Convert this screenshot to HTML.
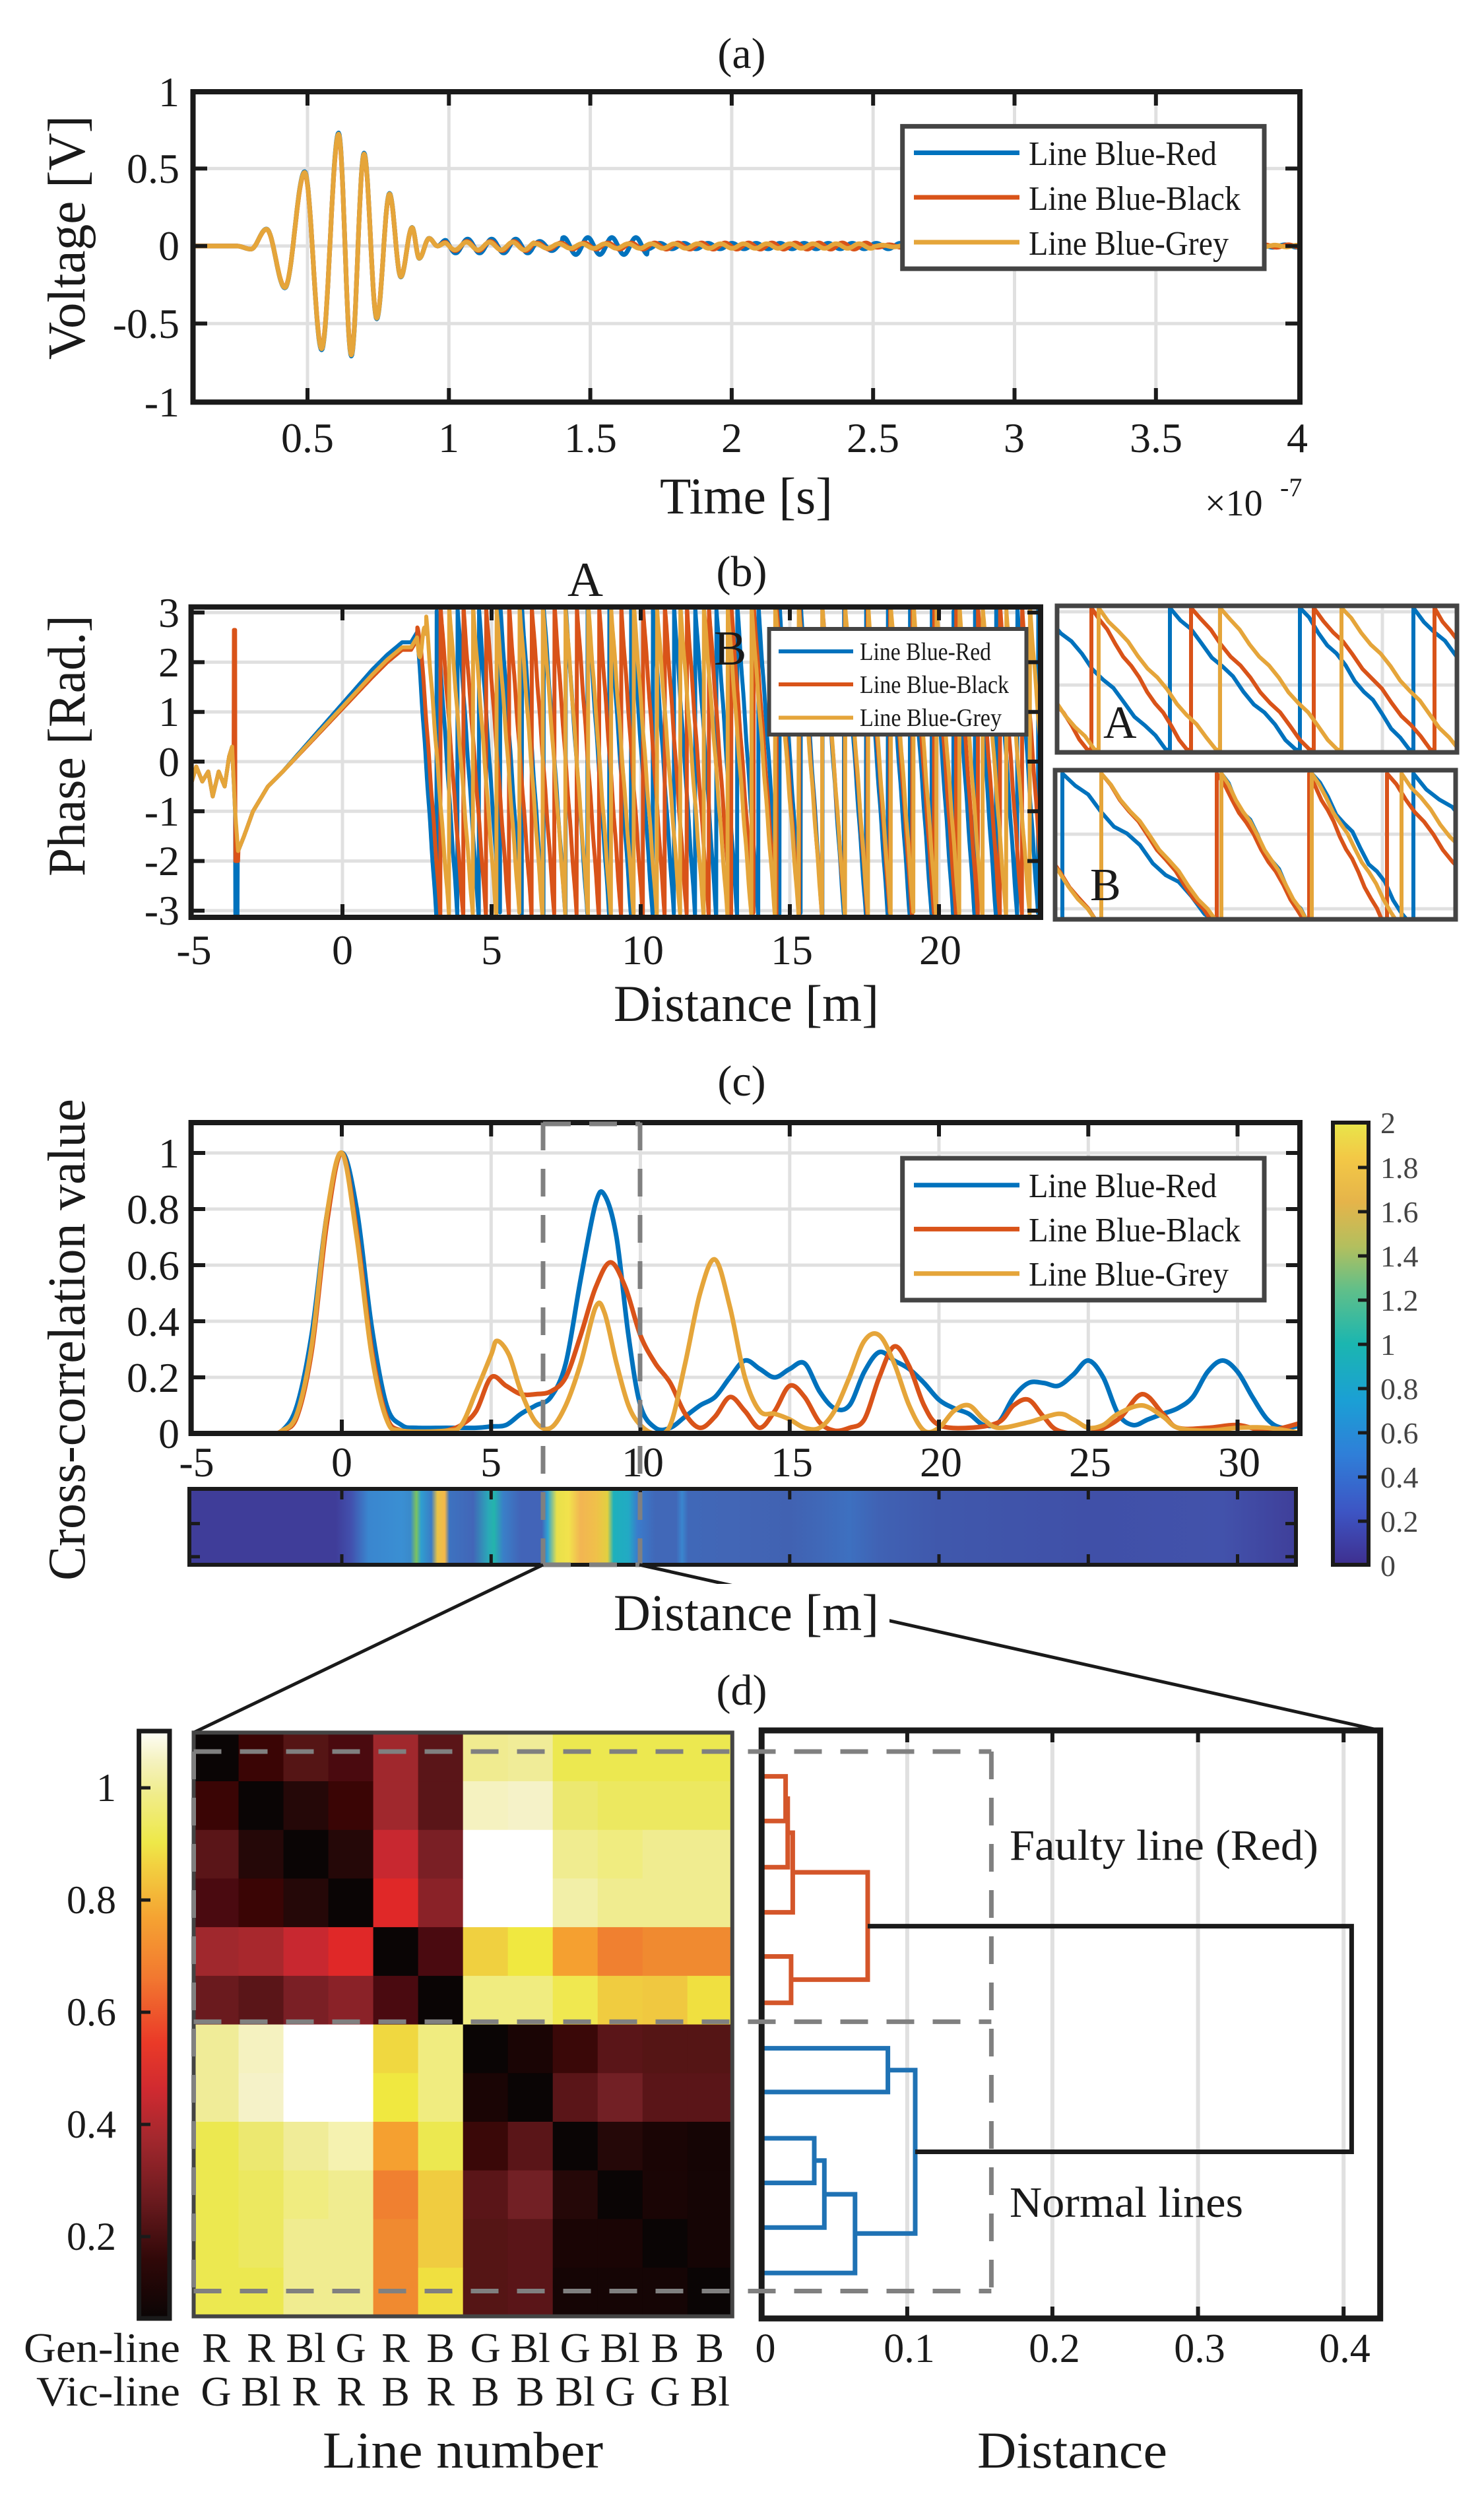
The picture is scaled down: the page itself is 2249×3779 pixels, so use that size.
<!DOCTYPE html>
<html><head><meta charset="utf-8">
<style>
html,body{margin:0;padding:0;background:#fff;}
svg{display:block;}
text{font-family:"Liberation Serif",serif;fill:#1a1a1a;}
</style></head>
<body>
<svg id="s" xmlns="http://www.w3.org/2000/svg" width="2249" height="3779" viewBox="0 0 2249 3779">
<defs>
<clipPath id="ca"><rect x="292.5" y="139" width="1677.5" height="470.3"/></clipPath>
<clipPath id="cb"><rect x="289.6" y="919.7" width="1287.4" height="470.3"/></clipPath>
<clipPath id="cc"><rect x="289.6" y="1701" width="1680.4" height="471"/></clipPath>
<clipPath id="cia"><rect x="1602" y="918" width="606" height="222"/></clipPath>
<clipPath id="cib"><rect x="1599" y="1167" width="607" height="226"/></clipPath>
<linearGradient id="strip" gradientUnits="userSpaceOnUse" x1="287" y1="0" x2="1964" y2="0"></linearGradient>
<linearGradient id="parula" x1="0" y1="1" x2="0" y2="0">
<stop offset="0" stop-color="#3e2f8f"/><stop offset="0.12" stop-color="#3d55c4"/><stop offset="0.25" stop-color="#2f7fd8"/><stop offset="0.37" stop-color="#1b9fd5"/><stop offset="0.5" stop-color="#1bb6b0"/><stop offset="0.62" stop-color="#5fbf8a"/><stop offset="0.72" stop-color="#b3bf5e"/><stop offset="0.82" stop-color="#e5b44a"/><stop offset="0.92" stop-color="#f3c846"/><stop offset="1" stop-color="#e8e64a"/>
</linearGradient>
<linearGradient id="hot" gradientUnits="userSpaceOnUse" x1="0" y1="3513" x2="0" y2="2623">
<stop offset="0" stop-color="#0a0505"/><stop offset="0.1" stop-color="#300808"/><stop offset="0.2" stop-color="#6a1a1e"/><stop offset="0.31" stop-color="#a5282e"/><stop offset="0.39" stop-color="#d02a30"/><stop offset="0.47" stop-color="#ea3a28"/><stop offset="0.58" stop-color="#f27830"/><stop offset="0.68" stop-color="#f5a232"/><stop offset="0.77" stop-color="#f2d040"/><stop offset="0.81" stop-color="#eee848"/><stop offset="0.89" stop-color="#f0ec88"/><stop offset="0.95" stop-color="#f5f2c0"/><stop offset="1" stop-color="#fefef8"/>
</linearGradient>
</defs>

<!-- ================= PANEL A ================= -->
<text x="1124" y="103" font-size="66" text-anchor="middle">(a)</text>
<g stroke="#e0e0e0" stroke-width="5">
<line x1="466" y1="139" x2="466" y2="609"/><line x1="680.3" y1="139" x2="680.3" y2="609"/><line x1="894.6" y1="139" x2="894.6" y2="609"/><line x1="1108.9" y1="139" x2="1108.9" y2="609"/><line x1="1323.2" y1="139" x2="1323.2" y2="609"/><line x1="1537.5" y1="139" x2="1537.5" y2="609"/><line x1="1751.8" y1="139" x2="1751.8" y2="609"/>
<line x1="292" y1="255.4" x2="1970" y2="255.4"/><line x1="292" y1="372.8" x2="1970" y2="372.8"/><line x1="292" y1="490.2" x2="1970" y2="490.2"/>
</g>
<g clip-path="url(#ca)" fill="none" stroke-width="7" stroke-linejoin="round">
<path id="a1" stroke="#0072BD"/><path id="a2" stroke="#D95319"/><path id="a3" stroke="#E5A53A"/>
</g>
<g stroke="#1a1a1a" stroke-width="6" id="ta"></g>
<rect x="292.5" y="139" width="1677.5" height="470.3" fill="none" stroke="#1a1a1a" stroke-width="8"/>
<g font-size="64" text-anchor="end">
<text x="272" y="161">1</text><text x="272" y="277">0.5</text><text x="272" y="394">0</text><text x="272" y="512">-0.5</text><text x="272" y="631">-1</text>
</g>
<g font-size="64" text-anchor="middle">
<text x="466" y="685">0.5</text><text x="680" y="685">1</text><text x="895" y="685">1.5</text><text x="1109" y="685">2</text><text x="1323" y="685">2.5</text><text x="1537" y="685">3</text><text x="1752" y="685">3.5</text><text x="1966" y="685">4</text>
</g>
<text x="1000" y="778" font-size="78" textLength="262" lengthAdjust="spacingAndGlyphs">Time [s]</text>
<text x="1826" y="781" font-size="56">×10</text><text x="1940" y="752" font-size="40">-7</text>
<text transform="translate(128,360) rotate(-90)" font-size="80" text-anchor="middle" textLength="370" lengthAdjust="spacingAndGlyphs">Voltage [V]</text>
<rect x="1367.7" y="191.4" width="548.3" height="215.8" fill="#fff" stroke="#444" stroke-width="7"/>
<g stroke-width="7"><line x1="1385" y1="231.5" x2="1545" y2="231.5" stroke="#0072BD"/><line x1="1385" y1="299" x2="1545" y2="299" stroke="#D95319"/><line x1="1385" y1="367" x2="1545" y2="367" stroke="#E5A53A"/></g>
<g font-size="52"><text x="1559" y="250" textLength="285" lengthAdjust="spacingAndGlyphs">Line Blue-Red</text><text x="1559" y="318" textLength="321" lengthAdjust="spacingAndGlyphs">Line Blue-Black</text><text x="1559" y="386" textLength="303" lengthAdjust="spacingAndGlyphs">Line Blue-Grey</text></g>

<!-- ================= PANEL B ================= -->
<text x="1124" y="888" font-size="66" text-anchor="middle">(b)</text>
<g stroke="#e0e0e0" stroke-width="5">
<line x1="519" y1="920" x2="519" y2="1390"/><line x1="745" y1="920" x2="745" y2="1390"/><line x1="971" y1="920" x2="971" y2="1390"/><line x1="1197" y1="920" x2="1197" y2="1390"/><line x1="1423" y1="920" x2="1423" y2="1390"/>
<line x1="290" y1="928.1" x2="1577" y2="928.1"/><line x1="290" y1="1003.4" x2="1577" y2="1003.4"/><line x1="290" y1="1078.7" x2="1577" y2="1078.7"/><line x1="290" y1="1154" x2="1577" y2="1154"/><line x1="290" y1="1229.3" x2="1577" y2="1229.3"/><line x1="290" y1="1304.6" x2="1577" y2="1304.6"/><line x1="290" y1="1379.9" x2="1577" y2="1379.9"/>
</g>
<g clip-path="url(#cb)" fill="none" stroke-width="6" stroke-linejoin="round">
<path id="b1" stroke="#0072BD"/><path id="b2" stroke="#D95319"/><path id="b3" stroke="#E5A53A"/>
</g>
<g stroke="#1a1a1a" stroke-width="6" id="tb"></g>
<rect x="289.6" y="919.7" width="1287.4" height="470.3" fill="none" stroke="#1a1a1a" stroke-width="8"/>
<g font-size="64" text-anchor="end">
<text x="272" y="950">3</text><text x="272" y="1025">2</text><text x="272" y="1100">1</text><text x="272" y="1176">0</text><text x="272" y="1251">-1</text><text x="272" y="1326">-2</text><text x="272" y="1401">-3</text>
</g>
<g font-size="64" text-anchor="middle">
<text x="294" y="1461">-5</text><text x="519" y="1461">0</text><text x="745" y="1461">5</text><text x="974" y="1461">10</text><text x="1200" y="1461">15</text><text x="1425" y="1461">20</text>
</g>
<text x="930" y="1547" font-size="78" textLength="402" lengthAdjust="spacingAndGlyphs">Distance [m]</text>
<text transform="translate(128,1130) rotate(-90)" font-size="80" text-anchor="middle" textLength="396" lengthAdjust="spacingAndGlyphs">Phase [Rad.]</text>
<text x="860" y="903" font-size="74" textLength="54" lengthAdjust="spacingAndGlyphs">A</text>
<text x="1082" y="1007" font-size="74">B</text>
<rect x="1165.6" y="953" width="389.9" height="160" fill="#fff" stroke="#444" stroke-width="6"/>
<g stroke-width="6"><line x1="1180" y1="987" x2="1293" y2="987" stroke="#0072BD"/><line x1="1180" y1="1037" x2="1293" y2="1037" stroke="#D95319"/><line x1="1180" y1="1087.5" x2="1293" y2="1087.5" stroke="#E5A53A"/></g>
<g font-size="38"><text x="1303" y="1000" textLength="199" lengthAdjust="spacingAndGlyphs">Line Blue-Red</text><text x="1303" y="1050" textLength="226" lengthAdjust="spacingAndGlyphs">Line Blue-Black</text><text x="1303" y="1100" textLength="215" lengthAdjust="spacingAndGlyphs">Line Blue-Grey</text></g>
<!-- insets -->
<g stroke="#e0e0e0" stroke-width="5">
<line x1="1848" y1="918" x2="1848" y2="1140"/><line x1="2095" y1="918" x2="2095" y2="1140"/><line x1="1602" y1="927" x2="2208" y2="927"/><line x1="1602" y1="1038" x2="2208" y2="1038"/>
<line x1="1848" y1="1167" x2="1848" y2="1393"/><line x1="2095" y1="1167" x2="2095" y2="1393"/><line x1="1599" y1="1264" x2="2206" y2="1264"/><line x1="1599" y1="1377" x2="2206" y2="1377"/>
</g>
<g clip-path="url(#cia)" fill="none" stroke-width="6" stroke-linejoin="round"><path id="ia1" stroke="#0072BD"/><path id="ia2" stroke="#D95319"/><path id="ia3" stroke="#E5A53A"/></g>
<g clip-path="url(#cib)" fill="none" stroke-width="6" stroke-linejoin="round"><path id="ib1" stroke="#0072BD"/><path id="ib2" stroke="#D95319"/><path id="ib3" stroke="#E5A53A"/></g>
<rect x="1602" y="918" width="606" height="222" fill="none" stroke="#444" stroke-width="7"/>
<rect x="1599" y="1167" width="607" height="226" fill="none" stroke="#444" stroke-width="7"/>
<text x="1672" y="1118" font-size="70">A</text>
<text x="1652" y="1364" font-size="70">B</text>

<!-- ================= PANEL C ================= -->
<text x="1124" y="1660" font-size="66" text-anchor="middle">(c)</text>
<g stroke="#e0e0e0" stroke-width="5">
<line x1="518" y1="1701" x2="518" y2="2172"/><line x1="744.3" y1="1701" x2="744.3" y2="2172"/><line x1="970.5" y1="1701" x2="970.5" y2="2172"/><line x1="1196.8" y1="1701" x2="1196.8" y2="2172"/><line x1="1423" y1="1701" x2="1423" y2="2172"/><line x1="1649.3" y1="1701" x2="1649.3" y2="2172"/><line x1="1875.5" y1="1701" x2="1875.5" y2="2172"/>
<line x1="290" y1="1747" x2="1970" y2="1747"/><line x1="290" y1="1832" x2="1970" y2="1832"/><line x1="290" y1="1917" x2="1970" y2="1917"/><line x1="290" y1="2002" x2="1970" y2="2002"/><line x1="290" y1="2087" x2="1970" y2="2087"/>
</g>
<g clip-path="url(#cc)" fill="none" stroke-width="7" stroke-linejoin="round">
<path id="c1" stroke="#0072BD"/><path id="c2" stroke="#D95319"/><path id="c3" stroke="#E5A53A"/>
</g>
<g stroke="#1a1a1a" stroke-width="6" id="tc"></g>
<rect x="289.6" y="1701" width="1680.4" height="471" fill="none" stroke="#1a1a1a" stroke-width="8"/>
<g font-size="64" text-anchor="end">
<text x="272" y="1769">1</text><text x="272" y="1854">0.8</text><text x="272" y="1939">0.6</text><text x="272" y="2024">0.4</text><text x="272" y="2109">0.2</text><text x="272" y="2194">0</text>
</g>
<g font-size="64" text-anchor="middle">
<text x="298" y="2237">-5</text><text x="518" y="2237">0</text><text x="744" y="2237">5</text><text x="974" y="2237">10</text><text x="1200" y="2237">15</text><text x="1426" y="2237">20</text><text x="1652" y="2237">25</text><text x="1878" y="2237">30</text>
</g>
<rect x="1367.7" y="1755" width="548.3" height="215" fill="#fff" stroke="#444" stroke-width="7"/>
<g stroke-width="7"><line x1="1385" y1="1795.7" x2="1545" y2="1795.7" stroke="#0072BD"/><line x1="1385" y1="1862.4" x2="1545" y2="1862.4" stroke="#D95319"/><line x1="1385" y1="1929.7" x2="1545" y2="1929.7" stroke="#E5A53A"/></g>
<g font-size="52"><text x="1559" y="1814" textLength="285" lengthAdjust="spacingAndGlyphs">Line Blue-Red</text><text x="1559" y="1881" textLength="321" lengthAdjust="spacingAndGlyphs">Line Blue-Black</text><text x="1559" y="1948" textLength="303" lengthAdjust="spacingAndGlyphs">Line Blue-Grey</text></g>
<!-- strip -->
<rect x="287" y="2256" width="1677" height="115" fill="url(#strip)" stroke="#1a1a1a" stroke-width="6"/>
<g stroke="#1a1a1a" stroke-width="5" id="ts"></g>
<!-- colorbar c -->
<rect x="2020" y="1701" width="54" height="670" fill="url(#parula)" stroke="#1a1a1a" stroke-width="6"/>
<g stroke="#1a1a1a" stroke-width="5">
<line x1="2058" y1="1769" x2="2073" y2="1769"/><line x1="2058" y1="1836" x2="2073" y2="1836"/><line x1="2058" y1="1903" x2="2073" y2="1903"/><line x1="2058" y1="1970" x2="2073" y2="1970"/><line x1="2058" y1="2037" x2="2073" y2="2037"/><line x1="2058" y1="2104" x2="2073" y2="2104"/><line x1="2058" y1="2171" x2="2073" y2="2171"/><line x1="2058" y1="2238" x2="2073" y2="2238"/><line x1="2058" y1="2305" x2="2073" y2="2305"/>
</g>
<g font-size="46" fill="#444" style="fill:#444">
<text x="2092" y="1717" style="fill:#444">2</text><text x="2092" y="1785" style="fill:#444">1.8</text><text x="2092" y="1852" style="fill:#444">1.6</text><text x="2092" y="1919" style="fill:#444">1.4</text><text x="2092" y="1986" style="fill:#444">1.2</text><text x="2092" y="2053" style="fill:#444">1</text><text x="2092" y="2120" style="fill:#444">0.8</text><text x="2092" y="2187" style="fill:#444">0.6</text><text x="2092" y="2254" style="fill:#444">0.4</text><text x="2092" y="2321" style="fill:#444">0.2</text><text x="2092" y="2388" style="fill:#444">0</text>
</g>
<text transform="translate(128,2030) rotate(-90)" font-size="80" text-anchor="middle" textLength="730" lengthAdjust="spacingAndGlyphs">Cross-correlation value</text>
<!-- dashed box c -->
<g stroke="#808080" stroke-width="7" stroke-dasharray="42,28" fill="none">
<line x1="823" y1="1701" x2="823" y2="2371"/><line x1="970" y1="1701" x2="970" y2="2371"/><line x1="823" y1="1703" x2="970" y2="1703"/><line x1="823" y1="2371" x2="970" y2="2371"/>
</g>
<!-- connector lines -->
<g stroke="#1a1a1a" stroke-width="5"><line x1="823" y1="2371" x2="294" y2="2625"/><line x1="969" y1="2371" x2="2091" y2="2622"/></g>
<rect x="918" y="2400" width="430" height="95" fill="#fff"/>
<text x="930" y="2470" font-size="78" textLength="402" lengthAdjust="spacingAndGlyphs">Distance [m]</text>

<!-- ================= PANEL D ================= -->
<text x="1124" y="2583" font-size="66" text-anchor="middle">(d)</text>
<g id="heat"></g>
<rect x="293.5" y="2625.3" width="816.3" height="884.5" fill="none" stroke="#444" stroke-width="6"/>
<rect x="210.6" y="2623" width="46.4" height="890" fill="url(#hot)" stroke="#1a1a1a" stroke-width="7"/>
<g stroke="#1a1a1a" stroke-width="5">
<line x1="213" y1="2709" x2="228" y2="2709"/><line x1="213" y1="2879" x2="228" y2="2879"/><line x1="213" y1="3049" x2="228" y2="3049"/><line x1="213" y1="3219" x2="228" y2="3219"/><line x1="213" y1="3389" x2="228" y2="3389"/>
</g>
<g font-size="60" text-anchor="end">
<text x="176" y="2729">1</text><text x="176" y="2899">0.8</text><text x="176" y="3069">0.6</text><text x="176" y="3239">0.4</text><text x="176" y="3409">0.2</text>
</g>
<!-- dendrogram -->
<g stroke="#e0e0e0" stroke-width="6">
<line x1="1374.9" y1="2622" x2="1374.9" y2="3513"/><line x1="1594.9" y1="2622" x2="1594.9" y2="3513"/><line x1="1815.6" y1="2622" x2="1815.6" y2="3513"/><line x1="2036.2" y1="2622" x2="2036.2" y2="3513"/>
</g>
<g fill="none" stroke-width="7" stroke-linejoin="miter">
<path stroke="#D4562A" d="M1154 2691.6H1190.6V2759.2H1154 M1190.6 2725.4H1193.8V2829.3H1154 M1193.8 2777H1201.4V2897.6H1154 M1154 2964.5H1198.9V3034.7H1154 M1201.4 2837H1315V2999.6H1198.9"/>
<path stroke="#1f72b4" d="M1154 3103.6H1345.6V3169.9H1154 M1154 3240H1234V3307.6H1154 M1234 3273.8H1249.3V3375.2H1154 M1249.3 3324.9H1295.8V3444.1H1154 M1345.6 3136.7H1387V3384.2H1295.8"/>
<path stroke="#1a1a1a" d="M1315 2918.6H2048.4V3260.5H1387"/>
</g>
<rect x="1154.2" y="2622" width="937.5" height="891" fill="none" stroke="#1a1a1a" stroke-width="9"/>
<g stroke="#1a1a1a" stroke-width="6">
<line x1="1374.9" y1="2622" x2="1374.9" y2="2640"/><line x1="1594.9" y1="2622" x2="1594.9" y2="2640"/><line x1="1815.6" y1="2622" x2="1815.6" y2="2640"/><line x1="2036.2" y1="2622" x2="2036.2" y2="2640"/>
<line x1="1374.9" y1="3495" x2="1374.9" y2="3513"/><line x1="1594.9" y1="3495" x2="1594.9" y2="3513"/><line x1="1815.6" y1="3495" x2="1815.6" y2="3513"/><line x1="2036.2" y1="3495" x2="2036.2" y2="3513"/>
</g>
<!-- dashed lines d -->
<g stroke="#808080" stroke-width="7" stroke-dasharray="42,28" fill="none">
<line x1="293.5" y1="2654" x2="1502.4" y2="2654"/><line x1="293.5" y1="3063.4" x2="1502.4" y2="3063.4"/><line x1="293.5" y1="3471.5" x2="1502.4" y2="3471.5"/>
<line x1="293.5" y1="2654" x2="293.5" y2="3471.5"/><line x1="1502.4" y1="2654" x2="1502.4" y2="3471.5"/>
</g>
<text x="1530" y="2818" font-size="66" textLength="468" lengthAdjust="spacingAndGlyphs">Faulty line (Red)</text>
<text x="1530" y="3359" font-size="66" textLength="354" lengthAdjust="spacingAndGlyphs">Normal lines</text>
<g font-size="62" text-anchor="middle">
<text x="1160" y="3579">0</text><text x="1378" y="3579">0.1</text><text x="1598" y="3579">0.2</text><text x="1818" y="3579">0.3</text><text x="2038" y="3579">0.4</text>
</g>
<g font-size="64">
<text x="36" y="3579" textLength="237" lengthAdjust="spacingAndGlyphs">Gen-line</text>
<text x="55" y="3645" textLength="218" lengthAdjust="spacingAndGlyphs">Vic-line</text>
</g>
<g font-size="64" text-anchor="middle" id="lbl"></g>
<text x="489" y="3739" font-size="78" textLength="425" lengthAdjust="spacingAndGlyphs">Line number</text>
<text x="1481" y="3739" font-size="78" textLength="288" lengthAdjust="spacingAndGlyphs">Distance</text>
</svg>

<script>
(function(){
var NS="http://www.w3.org/2000/svg";
function $(id){return document.getElementById(id);}
function f(n){return n.toFixed(1);}
function poly(pts){var s="M"+f(pts[0][0])+" "+f(pts[0][1]);for(var i=1;i<pts.length;i++)s+="L"+f(pts[i][0])+" "+f(pts[i][1]);return s;}
function smooth(pts){
 var s="M"+f(pts[0][0])+" "+f(pts[0][1]);
 for(var i=0;i<pts.length-1;i++){
  var p0=pts[i-1]||pts[i],p1=pts[i],p2=pts[i+1],p3=pts[i+2]||p2;
  var c1x=p1[0]+(p2[0]-p0[0])/6,c1y=p1[1]+(p2[1]-p0[1])/6,c2x=p2[0]-(p3[0]-p1[0])/6,c2y=p2[1]-(p3[1]-p1[1])/6;
  s+="C"+f(c1x)+" "+f(c1y)+" "+f(c2x)+" "+f(c2y)+" "+f(p2[0])+" "+f(p2[1]);
 }
 return s;
}
function line(g,x1,y1,x2,y2){var l=document.createElementNS(NS,"line");l.setAttribute("x1",x1);l.setAttribute("y1",y1);l.setAttribute("x2",x2);l.setAttribute("y2",y2);g.appendChild(l);}
// ---- ticks
var ta=$("ta");
[466,680.3,894.6,1108.9,1323.2,1537.5,1751.8].forEach(function(x){line(ta,x,139,x,160);line(ta,x,588,x,609);});
[255.4,372.8,490.2].forEach(function(y){line(ta,292,y,314,y);line(ta,1948,y,1970,y);});
var tb=$("tb");
[519,745,971,1197,1423].forEach(function(x){line(tb,x,920,x,940);line(tb,x,1370,x,1390);});
[928.1,1003.4,1078.7,1154,1229.3,1304.6,1379.9].forEach(function(y){line(tb,290,y,310,y);line(tb,1557,y,1577,y);});
var tc=$("tc");
[518,744.3,970.5,1196.8,1423,1649.3,1875.5].forEach(function(x){line(tc,x,1701,x,1722);line(tc,x,2151,x,2172);});
[1747,1832,1917,2002,2087].forEach(function(y){line(tc,290,y,311,y);line(tc,1949,y,1970,y);});
var ts=$("ts");
[518,744.3,970.5,1196.8,1423,1649.3,1875.5].forEach(function(x){line(ts,x,2256,x,2272);line(ts,x,2355,x,2371);});
[2308.6,2358.8].forEach(function(y){line(ts,287,y,303,y);line(ts,1948,y,1964,y);});

// ---- panel A
function XA(t){return 466+(t-0.5)*428.6;} function YA(v){return 372.8-v*234.8;}
var E=[[0.09,0],[0.25,0],[0.30,-0.02],[0.355,0.11],[0.42,-0.27],[0.49,0.48],[0.55,-0.67],[0.61,0.73],[0.655,-0.71],[0.70,0.60],[0.745,-0.47],[0.79,0.34],[0.83,-0.2],[0.87,0.12],[0.895,-0.08],[0.93,0.05],[0.96,0]];
function base(t){
 for(var i=0;i<E.length-1;i++){if(t>=E[i][0]&&t<=E[i+1][0]){var u=(t-E[i][0])/(E[i+1][0]-E[i][0]);return E[i][1]+(E[i+1][1]-E[i][1])*(1-Math.cos(Math.PI*u))/2;}}
 return null;
}
function sigA(k){
 var pts=[];
 for(var t=0.09;t<=4.01;t+=0.0025){
  var v=base(t);
  if(v===null){
   var a,ph;
   if(k==0){a=t<1.3?0.045:t<1.4?0.03:t<1.7?0.055:t<2.6?0.018:0.008;ph=0;}
   else if(k==1){a=t<1.3?0.03:t<2.5?0.02:0.008;ph=0.6;}
   else {a=t<1.3?0.025:t<2.5?0.015:0.006;ph=1.0;}
   var ramp=Math.min(1,(t-0.96)/0.03);
   v=ramp*a*Math.sin(2*Math.PI*(t-0.96)/0.085+ph*(t-0.96)*3);
  } else if(k==1) v*=0.98; else if(k==2) v*=0.99;
  pts.push([XA(t),YA(v)]);
 }
 return poly(pts);
}
$("a1").setAttribute("d",sigA(0));$("a2").setAttribute("d",sigA(1));$("a3").setAttribute("d",sigA(2));

// ---- panel B
function XB(d){return 519+45.2*d;} function YB(p){return 1154-75.3*p;}
var early=[[-5.1,-0.5],[-4.9,-0.1],[-4.7,-0.4],[-4.5,-0.2],[-4.35,-0.7],[-4.15,-0.2],[-3.95,-0.5],[-3.8,0.1],[-3.7,0.3],[-3.6,-1.0],[-3.5,-1.8],[-3.3,-1.5],[-3.0,-1.0],[-2.5,-0.5],[-2,-0.2],[-1,0.45],[0,1.1],[1,1.75],[1.5,2.05],[2,2.3],[2.3,2.3],[2.5,2.5]];
function interp(arr,d){for(var i=0;i<arr.length-1;i++){if(d>=arr[i][0]&&d<=arr[i+1][0]){var u=(d-arr[i][0])/(arr[i+1][0]-arr[i][0]);return arr[i][1]+(arr[i+1][1]-arr[i][1])*u;}}return arr[arr.length-1][1];}
function wrap(x){var t=(x+Math.PI)%(2*Math.PI);if(t<0)t+=2*Math.PI;return t-Math.PI;}
function sigB(k){
 var pts=[],P=[0.72,0.75,0.78][k],d0=[2.45,2.6,2.8][k],ps=[3.1,2.9,3.0][k],sd=[0,1.7,3.1][k];
 var off=[0.1,-0.05,0][k];
 for(var d=-5.1;d<=23.4;d+=0.01){
  var p;
  if(d<2.5){p=interp(early,d)+off*Math.min(1,Math.max(0,(d+2)/3));
   if(k==1&&d>-3.65&&d<-3.5){p=(d<-3.6)?2.65:-2;}
   if(k==0&&d>-3.6&&d<-3.52){p=-3.1;}
  }
  else if(d<d0){p=2.4+0.3*Math.sin(d*20+sd);}
  else{
   var ph=0,dd=d0,step=0.01;
   // integrate variable rate
   ph=2*Math.PI*((d-d0)/P + 0.05*Math.sin((d-d0)*0.6+sd)/0.6*0.6);
   p=wrap(ps-ph)+0.04*Math.sin(d*37+sd);
  }
  pts.push([XB(d),YB(p)]);
 }
 return poly(pts);
}
$("b1").setAttribute("d",sigB(0));$("b2").setAttribute("d",sigB(1));$("b3").setAttribute("d",sigB(2));

// insets
function saw(peaks,x0,x1,top,bot,wig){
 var pts=[],per=(peaks.length>1)?(peaks[1]-peaks[0]):185;
 var pk=[peaks[0]-per].concat(peaks).concat([peaks[peaks.length-1]+per]);
 for(var i=0;i<pk.length-1;i++){
  var a=pk[i],b=pk[i+1]-6;
  pts.push([a,top]);
  var n=12;
  for(var j=1;j<=n;j++){var x=a+(b-a)*j/n;var y=top+(bot-top)*j/n+(j<n?wig*Math.sin(j*1.7+a):0);pts.push([x,y]);}
  pts.push([pk[i+1],bot]);
 }
 return poly(pts);
}
$("ia1").setAttribute("d",saw([1773,1970,2142],1602,2208,921,1136,4));
$("ia2").setAttribute("d",saw([1654,1805,1991,2174],1602,2208,921,1136,3));
$("ia3").setAttribute("d",saw([1665,1849,2033,2217],1602,2208,921,1136,3));
$("ib1").setAttribute("d",saw([1610,1851,1988,2142],1599,2206,1172,1398,6));
$("ib2").setAttribute("d",saw([1669,1844,1984,2102],1599,2206,1172,1398,3));
$("ib3").setAttribute("d",saw([1669,1851,1988,2124],1599,2206,1172,1398,3));

// ---- panel C
function XC(d){return 518+45.25*d;} function YC(v){return 2172-425*v;}
var C1=[[-5.1,0],[-2.5,0],[-2,0.01],[-1.5,0.1],[-1,0.36],[-0.5,0.78],[0,1.0],[0.5,0.8],[1,0.38],[1.5,0.1],[2,0.03],[2.5,0.02],[3.5,0.02],[4.5,0.02],[5,0.025],[5.5,0.03],[6,0.07],[6.5,0.1],[7,0.13],[7.5,0.25],[8,0.55],[8.5,0.82],[8.8,0.85],[9.2,0.7],[9.6,0.35],[10,0.1],[10.5,0.02],[11,0.02],[11.5,0.06],[12,0.1],[12.5,0.13],[13,0.2],[13.5,0.26],[14,0.23],[14.5,0.2],[15,0.23],[15.5,0.25],[16,0.15],[16.5,0.09],[17,0.1],[17.5,0.22],[18,0.29],[18.5,0.26],[19,0.23],[19.5,0.18],[20,0.12],[20.5,0.09],[21,0.07],[21.5,0.03],[22,0.04],[22.5,0.13],[23,0.18],[23.5,0.18],[24,0.17],[24.5,0.21],[25,0.26],[25.5,0.2],[26,0.07],[26.5,0.03],[27,0.05],[27.5,0.07],[28,0.09],[28.5,0.13],[29,0.22],[29.5,0.26],[30,0.22],[30.5,0.13],[31,0.05],[31.5,0.02],[32.2,0.03]];
var C2=[[-5.1,0],[-2.5,0],[-2,0.01],[-1.5,0.06],[-1,0.3],[-0.5,0.75],[0,1.0],[0.5,0.72],[1,0.3],[1.5,0.06],[2,0.01],[3,0],[3.5,0.01],[4,0.03],[4.5,0.08],[5,0.2],[5.5,0.17],[6,0.14],[6.5,0.14],[7,0.15],[7.5,0.2],[8,0.35],[8.5,0.52],[9,0.61],[9.5,0.52],[10,0.35],[10.5,0.25],[11,0.18],[11.5,0.07],[12,0.02],[12.5,0.06],[13,0.13],[13.5,0.08],[14,0.02],[14.5,0.08],[15,0.17],[15.5,0.13],[16,0.04],[16.5,0.01],[17,0.02],[17.5,0.05],[18,0.2],[18.5,0.31],[19,0.24],[19.5,0.1],[20,0.03],[21,0.02],[22,0.04],[22.5,0.1],[23,0.12],[23.5,0.06],[24,0.01],[25,0],[26,0.05],[26.8,0.14],[27.5,0.07],[28,0.02],[29,0.02],[30,0.03],[31,0.01],[32.2,0.04]];
var C3=[[-5.1,0],[-2.5,0],[-2,0.01],[-1.5,0.07],[-1,0.32],[-0.5,0.78],[0,1.0],[0.5,0.7],[1,0.28],[1.5,0.05],[2,0.01],[3.5,0.01],[4,0.03],[4.5,0.15],[5,0.28],[5.2,0.33],[5.6,0.28],[6,0.15],[6.5,0.04],[7,0.02],[7.5,0.1],[8,0.25],[8.5,0.45],[8.8,0.43],[9.2,0.25],[9.6,0.1],[10,0.03],[10.5,0.0],[11,0.03],[11.5,0.25],[12,0.5],[12.5,0.62],[13,0.45],[13.5,0.2],[14,0.08],[14.5,0.07],[15,0.05],[15.5,0.02],[16,0.02],[16.5,0.08],[17,0.2],[17.5,0.33],[18,0.35],[18.5,0.25],[19,0.1],[19.5,0.01],[20,0.02],[20.5,0.08],[21,0.1],[21.5,0.05],[22,0.02],[23,0.04],[24,0.07],[24.5,0.05],[25,0.02],[25.5,0.03],[26,0.07],[26.8,0.1],[27.5,0.06],[28,0.02],[29,0.01],[30,0.02],[31,0.02],[32.2,0.0]];
function mp(a){return a.map(function(p){return [XC(p[0]),YC(p[1])];});}
$("c1").setAttribute("d",smooth(mp(C1)));$("c2").setAttribute("d",smooth(mp(C2)));$("c3").setAttribute("d",smooth(mp(C3)));

// strip gradient
var S=[[-5.1,"#3f3d99"],[-0.2,"#3f3d99"],[0.3,"#4250ad"],[0.9,"#3a86cf"],[2.0,"#3a8fd3"],[2.3,"#3a8acb"],[2.5,"#7cc35f"],[2.65,"#2f9fd0"],[3.0,"#3b7cc6"],[3.2,"#e8c346"],[3.45,"#f5b84a"],[3.6,"#3d72c0"],[4.4,"#4266b8"],[4.9,"#2aa8b8"],[5.1,"#24b4ac"],[5.4,"#3a80c8"],[6.0,"#4264b8"],[6.7,"#4264b8"],[6.9,"#2ea4d4"],[7.2,"#e8e04a"],[7.6,"#f2e24c"],[8.0,"#f2b552"],[8.5,"#f0c04a"],[8.9,"#e2d040"],[9.1,"#1eb0bc"],[9.6,"#22aac4"],[9.9,"#3a7ccc"],[10.5,"#4168b8"],[11.2,"#4168b8"],[11.4,"#3a86cf"],[11.6,"#4068b8"],[13,"#4266b6"],[15,"#4162b2"],[16,"#4068b8"],[17,"#3d70c0"],[18,"#4062b4"],[20,"#4058ac"],[25,"#4050a8"],[29.5,"#4252ab"],[32.1,"#3f3f9a"]];
var g=$("strip");
S.forEach(function(s){var st=document.createElementNS(NS,"stop");var o=(XC(s[0])-287)/1677;st.setAttribute("offset",Math.max(0,Math.min(1,o)).toFixed(4));st.setAttribute("stop-color",s[1]);g.appendChild(st);});

// heatmap
var H=[
["0a0505","3a0505","551515","4a0a0f","a0282d","5a1518","f0eb90","f0ec98","ece850","ece850","ece850","ece850"],
["3a0505","0a0505","250808","3a0505","a0282d","5a1518","f5f2c0","f5f2c8","ece870","ece860","ece860","ece860"],
["5a1518","250808","0a0505","250808","c82830","7a1f25","ffffff","ffffff","f0ec90","f0ec80","f0ec90","f0ec90"],
["4a0a10","3a0505","250808","0a0505","e02828","8a2228","ffffff","ffffff","f2efa8","f0ec90","f0ec90","f0ec90"],
["a0282d","a8282d","c82830","e02828","0a0505","4a0a10","f0d040","f0e840","f5a030","f08030","f08a30","f08a30"],
["6a1a1e","5a1518","7a1f25","8a2228","4a0a10","0a0505","f0ec80","f0ec80","f0e850","f0cc40","f0c840","f0e040"],
["f0ec98","f5f2c0","ffffff","ffffff","f0d840","f0ec80","0a0505","1a0505","3a0808","5a1518","551515","551515"],
["f0ec98","f5f2c8","ffffff","ffffff","f0e840","f0ec80","1a0505","0a0505","5a1518","722025","5a1518","5a1518"],
["ece850","ece870","f0ec98","f5f2b0","f5a030","ece850","3a0808","5a1518","0a0505","250808","1a0505","150505"],
["ece850","ece860","f0ec80","f0ec90","f08030","f0cc40","5a1518","722025","250808","0a0505","1a0505","150505"],
["ece850","ece860","f0ec90","f0ec90","f08a30","f0cc40","551515","5a1518","1a0505","1a0505","0a0505","150505"],
["ece850","ece850","f0ec90","f0ec90","f08a30","f0e040","551515","5a1518","150505","150505","150505","0a0505"]];
var hg=$("heat"),cw=816.3/12,ch=884.5/12;
for(var r=0;r<12;r++)for(var c=0;c<12;c++){var re=document.createElementNS(NS,"rect");re.setAttribute("x",(293.5+c*cw).toFixed(2));re.setAttribute("y",(2625.3+r*ch).toFixed(2));re.setAttribute("width",(cw+0.6).toFixed(2));re.setAttribute("height",(ch+0.6).toFixed(2));re.setAttribute("fill","#"+H[r][c]);hg.appendChild(re);}
var gen=["R","R","Bl","G","R","B","G","Bl","G","Bl","B","B"],vic=["G","Bl","R","R","B","R","B","B","Bl","G","G","Bl"];
var lg=$("lbl");
for(var i=0;i<12;i++){var x=(293.5+(i+0.5)*cw).toFixed(1);
 var t1=document.createElementNS(NS,"text");t1.setAttribute("x",x);t1.setAttribute("y","3579");t1.textContent=gen[i];lg.appendChild(t1);
 var t2=document.createElementNS(NS,"text");t2.setAttribute("x",x);t2.setAttribute("y","3645");t2.textContent=vic[i];lg.appendChild(t2);}
})();
</script>
</body></html>
